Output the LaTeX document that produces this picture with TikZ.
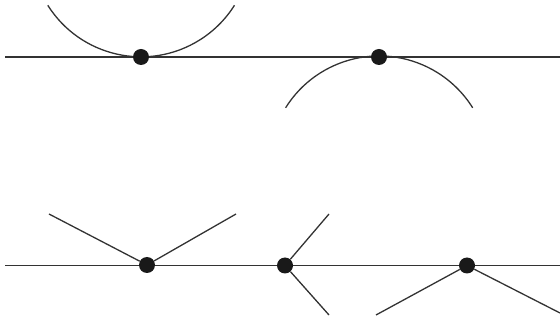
\documentclass[tikz,border=0pt]{standalone}
\begin{document}
\begin{tikzpicture}[x=1pt,y=1pt,
  ln/.style={line width=1.3pt,draw=black!80},
  dot/.style={circle,fill=black!90,inner sep=0pt,minimum size=16pt}]
\useasboundingbox (0,0) rectangle (560,324);
% top row
\coordinate (tl) at (5,267);
\coordinate (tr) at (560,267);
\draw[ln] (tl) -- (tr);
\coordinate (a1) at (47.8,318.7);
\draw[ln] (a1) arc[start angle=212.2,end angle=327.8,radius=110.3];
\coordinate (b1) at (285.6,216.2);
\draw[ln] (b1) arc[start angle=148,end angle=32,radius=110.3];
\node[dot] (d1) at (141,267) {};
\node[dot] (d2) at (379,267) {};
% bottom row
\coordinate (bl) at (5,58.5);
\coordinate (br) at (560,58.5);
\draw[ln] (bl) -- (br);
\node[dot] (e1) at (147,59) {};
\node[dot] (e2) at (285,58.5) {};
\node[dot] (e3) at (467,58.5) {};
\coordinate (p1) at (49,110);
\coordinate (p2) at (236,110);
\coordinate (q1) at (329,110);
\coordinate (q2) at (329,9);
\coordinate (r1) at (376,9);
\coordinate (r2) at (560,11);
\draw[ln] (p1) -- (e1);
\draw[ln] (e1) -- (p2);
\draw[ln] (q1) -- (e2);
\draw[ln] (e2) -- (q2);
\draw[ln] (r1) -- (e3);
\draw[ln] (e3) -- (r2);
\end{tikzpicture}
\end{document}
